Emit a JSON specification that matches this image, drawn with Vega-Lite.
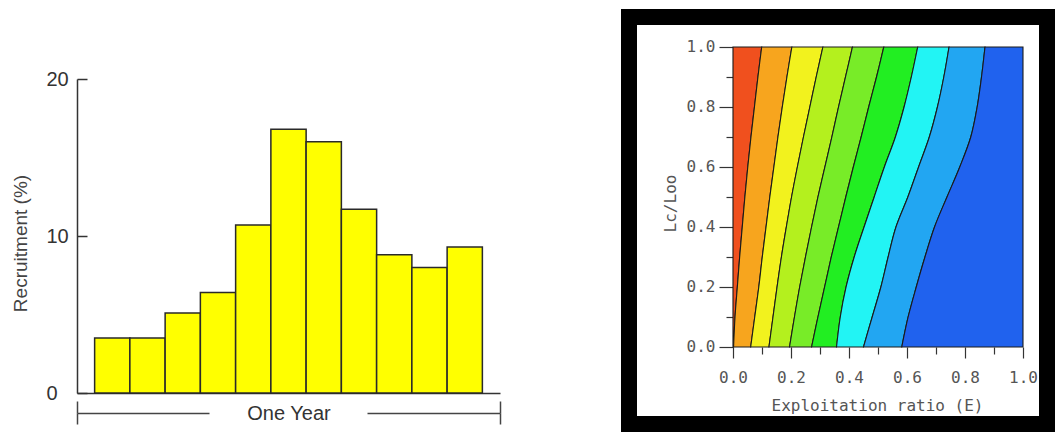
{
  "$schema": "https://vega.github.io/schema/vega-lite/v6.json",
  "background": "white",
  "padding": {"left": 11, "top": 9, "right": 0, "bottom": 0},
  "spacing": 120,
  "datasets": {
    "recruitment": [
      {"bin": 1, "recruitment": 3.5},
      {"bin": 2, "recruitment": 3.5},
      {"bin": 3, "recruitment": 5.1},
      {"bin": 4, "recruitment": 6.4},
      {"bin": 5, "recruitment": 10.7},
      {"bin": 6, "recruitment": 16.8},
      {"bin": 7, "recruitment": 16.0},
      {"bin": 8, "recruitment": 11.7},
      {"bin": 9, "recruitment": 8.8},
      {"bin": 10, "recruitment": 8.0},
      {"bin": 11, "recruitment": 9.3}
    ],
    "contours": [
      {"line": 0, "L": 0.0, "E": 0}, {"line": 0, "L": 0.1, "E": 0}, {"line": 0, "L": 0.2, "E": 0}, {"line": 0, "L": 0.3, "E": 0}, {"line": 0, "L": 0.4, "E": 0}, {"line": 0, "L": 0.5, "E": 0}, {"line": 0, "L": 0.6, "E": 0}, {"line": 0, "L": 0.7, "E": 0}, {"line": 0, "L": 0.8, "E": 0}, {"line": 0, "L": 0.9, "E": 0}, {"line": 0, "L": 1.0, "E": 0},
      {"line": 1, "L": 0.0, "E": 0.002}, {"line": 1, "L": 0.1, "E": 0.007}, {"line": 1, "L": 0.2, "E": 0.015}, {"line": 1, "L": 0.3, "E": 0.023}, {"line": 1, "L": 0.4, "E": 0.032}, {"line": 1, "L": 0.5, "E": 0.041}, {"line": 1, "L": 0.6, "E": 0.051}, {"line": 1, "L": 0.7, "E": 0.062}, {"line": 1, "L": 0.8, "E": 0.074}, {"line": 1, "L": 0.9, "E": 0.086}, {"line": 1, "L": 1.0, "E": 0.099},
      {"line": 2, "L": 0.0, "E": 0.061}, {"line": 2, "L": 0.1, "E": 0.075}, {"line": 2, "L": 0.2, "E": 0.089}, {"line": 2, "L": 0.3, "E": 0.101}, {"line": 2, "L": 0.4, "E": 0.114}, {"line": 2, "L": 0.5, "E": 0.127}, {"line": 2, "L": 0.6, "E": 0.141}, {"line": 2, "L": 0.7, "E": 0.155}, {"line": 2, "L": 0.8, "E": 0.170}, {"line": 2, "L": 0.9, "E": 0.186}, {"line": 2, "L": 1.0, "E": 0.203},
      {"line": 3, "L": 0.0, "E": 0.124}, {"line": 3, "L": 0.1, "E": 0.138}, {"line": 3, "L": 0.2, "E": 0.152}, {"line": 3, "L": 0.3, "E": 0.167}, {"line": 3, "L": 0.4, "E": 0.184}, {"line": 3, "L": 0.5, "E": 0.202}, {"line": 3, "L": 0.6, "E": 0.222}, {"line": 3, "L": 0.7, "E": 0.243}, {"line": 3, "L": 0.8, "E": 0.265}, {"line": 3, "L": 0.9, "E": 0.287}, {"line": 3, "L": 1.0, "E": 0.310},
      {"line": 4, "L": 0.0, "E": 0.195}, {"line": 4, "L": 0.1, "E": 0.212}, {"line": 4, "L": 0.2, "E": 0.230}, {"line": 4, "L": 0.3, "E": 0.250}, {"line": 4, "L": 0.4, "E": 0.271}, {"line": 4, "L": 0.5, "E": 0.293}, {"line": 4, "L": 0.6, "E": 0.317}, {"line": 4, "L": 0.7, "E": 0.341}, {"line": 4, "L": 0.8, "E": 0.364}, {"line": 4, "L": 0.9, "E": 0.388}, {"line": 4, "L": 1.0, "E": 0.412},
      {"line": 5, "L": 0.0, "E": 0.271}, {"line": 5, "L": 0.1, "E": 0.293}, {"line": 5, "L": 0.2, "E": 0.316}, {"line": 5, "L": 0.3, "E": 0.339}, {"line": 5, "L": 0.4, "E": 0.364}, {"line": 5, "L": 0.5, "E": 0.389}, {"line": 5, "L": 0.6, "E": 0.415}, {"line": 5, "L": 0.7, "E": 0.442}, {"line": 5, "L": 0.8, "E": 0.468}, {"line": 5, "L": 0.9, "E": 0.495}, {"line": 5, "L": 1.0, "E": 0.520},
      {"line": 6, "L": 0.0, "E": 0.357}, {"line": 6, "L": 0.1, "E": 0.370}, {"line": 6, "L": 0.2, "E": 0.390}, {"line": 6, "L": 0.3, "E": 0.418}, {"line": 6, "L": 0.4, "E": 0.452}, {"line": 6, "L": 0.5, "E": 0.487}, {"line": 6, "L": 0.6, "E": 0.522}, {"line": 6, "L": 0.7, "E": 0.560}, {"line": 6, "L": 0.8, "E": 0.590}, {"line": 6, "L": 0.9, "E": 0.615}, {"line": 6, "L": 1.0, "E": 0.637},
      {"line": 7, "L": 0.0, "E": 0.450}, {"line": 7, "L": 0.1, "E": 0.480}, {"line": 7, "L": 0.2, "E": 0.510}, {"line": 7, "L": 0.3, "E": 0.535}, {"line": 7, "L": 0.4, "E": 0.562}, {"line": 7, "L": 0.5, "E": 0.603}, {"line": 7, "L": 0.6, "E": 0.640}, {"line": 7, "L": 0.7, "E": 0.677}, {"line": 7, "L": 0.8, "E": 0.705}, {"line": 7, "L": 0.9, "E": 0.727}, {"line": 7, "L": 1.0, "E": 0.745},
      {"line": 8, "L": 0.0, "E": 0.582}, {"line": 8, "L": 0.1, "E": 0.604}, {"line": 8, "L": 0.2, "E": 0.632}, {"line": 8, "L": 0.3, "E": 0.662}, {"line": 8, "L": 0.4, "E": 0.695}, {"line": 8, "L": 0.5, "E": 0.738}, {"line": 8, "L": 0.6, "E": 0.782}, {"line": 8, "L": 0.7, "E": 0.820}, {"line": 8, "L": 0.8, "E": 0.842}, {"line": 8, "L": 0.9, "E": 0.857}, {"line": 8, "L": 1.0, "E": 0.869},
      {"line": 9, "L": 0.0, "E": 1}, {"line": 9, "L": 0.1, "E": 1}, {"line": 9, "L": 0.2, "E": 1}, {"line": 9, "L": 0.3, "E": 1}, {"line": 9, "L": 0.4, "E": 1}, {"line": 9, "L": 0.5, "E": 1}, {"line": 9, "L": 0.6, "E": 1}, {"line": 9, "L": 0.7, "E": 1}, {"line": 9, "L": 0.8, "E": 1}, {"line": 9, "L": 0.9, "E": 1}, {"line": 9, "L": 1.0, "E": 1}
    ]
  },
  "hconcat": [
    {
      "width": 423,
      "height": 376,
      "view": {"stroke": null},
      "data": {"name": "recruitment"},
      "layer": [
        {
          "mark": {"type": "bar", "fill": "#FFFF00", "stroke": "#2a2a2a", "strokeWidth": 1.5},
          "encoding": {
            "x": {
              "field": "bin", "type": "ordinal",
              "scale": {"paddingInner": 0, "paddingOuter": 0.5},
              "axis": {"orient": "bottom", "domain": true, "domainColor": "#333", "domainWidth": 1.5, "ticks": false, "labels": false, "title": null, "grid": false}
            },
            "y": {
              "field": "recruitment", "type": "quantitative",
              "scale": {"domain": [0, 23.95], "nice": false, "zero": true},
              "axis": {
                "values": [0, 10, 20], "grid": false,
                "domainColor": "#333", "domainWidth": 1.5, "domainDash": [314, 2000],
                "tickSize": -10, "tickColor": "#333", "tickWidth": 1.5,
                "labelFont": "Liberation Sans", "labelFontSize": 20, "labelColor": "#333", "labelPadding": 41, "labelAlign": "left",
                "title": "Recruitment (%)", "titleFont": "Liberation Sans", "titleFontSize": 19, "titleFontWeight": "normal", "titleColor": "#444",
                "titleX": -57, "titleY": 226, "titleBaseline": "middle"
              }
            }
          }
        },
        {
          "mark": {"type": "point", "opacity": 0},
          "encoding": {
            "x": {
              "field": "bin", "type": "quantitative",
              "scale": {"domain": [0, 12], "nice": false, "zero": false},
              "axis": {
                "orient": "bottom", "offset": 20, "grid": false,
                "domainColor": "#444", "domainWidth": 1.5, "domainDash": [132, 158, 134],
                "values": [0, 12], "tickSize": 11, "tickColor": "#444", "tickWidth": 1.5, "labels": false,
                "title": "One Year", "titleFont": "Liberation Sans", "titleFontSize": 20, "titleFontWeight": "normal", "titleColor": "#333",
                "titleY": 0, "titleBaseline": "middle"
              }
            },
            "y": {"field": "recruitment", "type": "quantitative", "scale": {"domain": [0, 23.95], "nice": false, "zero": true}}
          }
        },
        {
          "mark": {"type": "point", "opacity": 0},
          "encoding": {
            "x": {
              "field": "bin", "type": "quantitative",
              "scale": {"domain": [0, 12], "nice": false, "zero": false},
              "axis": {
                "orient": "bottom", "offset": 20, "grid": false, "domain": false,
                "values": [0, 12], "tickSize": -12, "tickColor": "#444", "tickWidth": 1.5, "labels": false, "title": null
              }
            },
            "y": {"field": "recruitment", "type": "quantitative", "scale": {"domain": [0, 23.95], "nice": false, "zero": true}}
          }
        }
      ],
      "resolve": {"scale": {"x": "independent"}}
    },
    {
      "width": 418,
      "height": 407,
      "view": {"fill": "white", "stroke": "black", "strokeWidth": 16},
      "data": {"name": "contours"},
      "transform": [
        {"window": [{"op": "lag", "field": "E", "as": "E0"}], "groupby": ["L"], "sort": [{"field": "line", "order": "ascending"}]},
        {"filter": "datum.line >= 1"}
      ],
      "mark": {"type": "area", "orient": "horizontal", "interpolate": "catmull-rom", "stroke": "#1a1a1a", "strokeWidth": 1.1, "fillOpacity": 1},
      "encoding": {
        "y": {
          "field": "L", "type": "quantitative",
          "scale": {"domain": [-0.2567, 1.1], "nice": false, "zero": false},
          "axis": {
            "orient": "left", "offset": -104, "domain": false, "grid": false,
            "values": [0, 0.1, 0.2, 0.3, 0.4, 0.5, 0.6, 0.7, 0.8, 0.9, 1.0],
            "labelExpr": "round(datum.value*10) % 2 == 0 ? format(datum.value, '.1f') : ''",
            "tickSize": {"condition": {"test": "round(datum.value*10) % 2 == 0", "value": 14}, "value": 7},
            "tickColor": "#333", "tickWidth": 1.2,
            "labelFont": "DejaVu Sans Mono", "labelFontSize": 16, "labelColor": "#555", "labelPadding": 4,
            "title": "Lc/Loo", "titleFont": "DejaVu Sans Mono", "titleFontSize": 16, "titleFontWeight": "normal", "titleColor": "#555",
            "titleX": -63, "titleY": 186, "titleBaseline": "middle"
          }
        },
        "x": {
          "field": "E0", "type": "quantitative", "stack": null,
          "scale": {"domain": [-0.3586, 1.0828], "nice": false, "zero": false},
          "axis": {
            "orient": "bottom", "offset": -77, "domain": false, "grid": false,
            "values": [0, 0.1, 0.2, 0.3, 0.4, 0.5, 0.6, 0.7, 0.8, 0.9, 1.0],
            "labelExpr": "round(datum.value*10) % 2 == 0 ? format(datum.value, '.1f') : ''",
            "tickSize": {"condition": {"test": "round(datum.value*10) % 2 == 0", "value": 11}, "value": 7},
            "tickColor": "#333", "tickWidth": 1.2,
            "labelFont": "DejaVu Sans Mono", "labelFontSize": 16, "labelColor": "#555", "labelPadding": 11,
            "title": "Exploitation ratio (E)", "titleFont": "DejaVu Sans Mono", "titleFontSize": 16, "titleFontWeight": "normal", "titleColor": "#555",
            "titleX": 248, "titleY": 58, "titleBaseline": "middle"
          }
        },
        "x2": {"field": "E"},
        "color": {
          "field": "line", "type": "ordinal",
          "scale": {"domain": [1, 2, 3, 4, 5, 6, 7, 8, 9], "range": ["#F0501E", "#F7A51E", "#F2F21E", "#B4F01E", "#78EC28", "#22EE22", "#22F4F4", "#22A6F2", "#2062EE"]},
          "legend": null
        }
      }
    }
  ]
}
